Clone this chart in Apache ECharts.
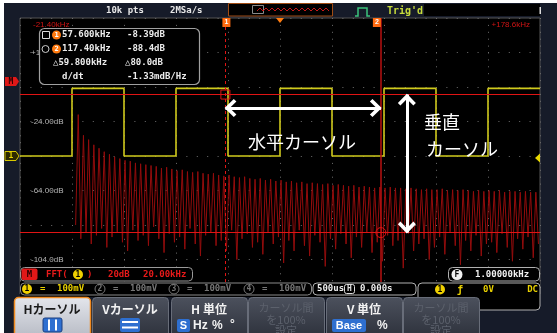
<!DOCTYPE html>
<html>
<head>
<meta charset="utf-8">
<script src="https://cdn.jsdelivr.net/npm/echarts@6/dist/echarts.min.js"></script>
<style>
html, body { margin: 0; padding: 0; background: #fff; }
#main { width: 557px; height: 333px; }
</style>
</head>
<body>
<div id="main"></div>
<script>
// FFT of CH1 (1 kHz square wave): peak level of each odd harmonic 1,3,...,177 kHz (dB)
var fftPeak = [
  -20, -32, -34.5, -37.5, -39.5, -41.5, -43, -44.5, -45.5, -46.5,
  -47, -48, -48.5, -49, -49.5, -50, -51, -50.5, -51.5, -52.5,
  -52, -53, -53.5, -53, -54, -54.5, -54, -55, -55.5, -55,
  -56, -56.5, -56, -57, -57.5, -57, -58, -57.5, -58.5, -58,
  -59, -58.5, -59.5, -59, -60, -59.5, -60, -60.5, -60, -61,
  -60.5, -61, -61.5, -61, -62, -61.5, -62, -62.5, -62, -62.5,
  -62, -62.5, -62.5, -63, -62.5, -63, -63.5, -63, -63.5, -63.5,
  -63, -64, -63.5, -64, -63.5, -64, -64.5, -64, -64.5, -64,
  -64.5, -64, -65, -64.5, -64.5, -65, -64.5, -65, -65
];
// noise floor between harmonics at 0,2,4,...,178 kHz (dB)
var fftFloor = [
  -84, -92, -88, -95, -90, -86, -97, -91, -88, -94,
  -99, -87, -93, -90, -96, -85, -92, -100, -89, -94,
  -91, -98, -86, -95, -102, -90, -88, -96, -93, -99,
  -87, -104, -92, -89, -97, -94, -101, -88, -95, -91,
  -106, -93, -99, -87, -96, -102, -90, -94, -108, -92,
  -98, -89, -95, -103, -91, -97, -88, -100, -94, -105,
  -90, -96, -93, -109, -89, -99, -95, -92, -104, -97,
  -91, -101, -88, -96, -107, -93, -99, -90, -102, -95,
  -94, -100, -89, -97, -105, -92, -98, -91, -103, -95
];
// CH1 time-domain trace: edge times (ms) and level after each (mV)
var sqTime = [-2.5, -2, -1.5, -1, -0.5, 0, 0.5, 1, 1.5, 2, 2.5];
var sqLevel = [0, 196, 0, 196, 0, 196, 0, 196, 0, 196, 196];
// cursors
var cursorFreq = [57.6, 117.4];   // kHz
var cursorDb = [-8.39, -88.4];    // dB
var arrowDb = -16.2;
var arrowFreq = 127.4;
// vertical scale labels
var dbTicks = [16, -24, -64, -104];
var dbLabels = ['+16.00dB', '-24.00dB', '-64.00dB', '-104.0dB'];

var fftData = [];
for (var k = 0; k < fftPeak.length; k++) {
  fftData.push([2 * k, fftFloor[k]]);
  fftData.push([2 * k + 1, fftPeak[k]]);
}
fftData.push([2 * fftPeak.length, fftFloor[fftPeak.length]]);

var sqData = sqTime.map(function (t, i) { return [t, sqLevel[i]]; });

var mono = 'bold 9px "DejaVu Sans Mono"';
var jp = '"Noto Sans CJK JP"';

function txt(x, y, s, color, font, align, z) {
  return { type: 'text', x: x, y: y, z: z || 102,
    style: { text: s, fill: color, font: font || mono, textAlign: align || 'left', textVerticalAlign: 'middle' } };
}
function box(x, y, w, h, r, fill, stroke, lw, z) {
  return { type: 'rect', z: z || 100, shape: { x: x, y: y, width: w, height: h, r: r || 0 },
    style: { fill: fill || 'none', stroke: stroke || 'none', lineWidth: lw || 1 } };
}
function circ(cx, cy, r, fill, stroke, z) {
  return { type: 'circle', z: z || 101, shape: { cx: cx, cy: cy, r: r },
    style: { fill: fill || 'none', stroke: stroke || 'none', lineWidth: 1 } };
}
function grad(a, b) {
  return new echarts.graphic.LinearGradient(0, 0, 0, 1, [{ offset: 0, color: a }, { offset: 1, color: b }]);
}

var g = [];
// white margins
g.push(box(0, 0, 557, 3, 0, '#fff', null, 1, 120));
g.push(box(0, 0, 4, 333, 0, '#fff', null, 1, 120));

// top status bar
g.push(txt(106, 11, '10k pts', '#e8e8e8'));
g.push(txt(170, 11, '2MSa/s', '#e8e8e8'));
g.push(box(228.5, 3.5, 104, 12.5, 0, '#000', '#a04c14', 1));
g.push(box(252.5, 5.5, 11, 8, 0, null, '#8a8a8a', 1, 101));
var wave = [];
for (var i = 0; i <= 24; i++) wave.push([257 + i * 3, 9.5 + (i % 2 ? -1.5 : 1.5)]);
g.push({ type: 'polyline', z: 101, shape: { points: wave }, style: { stroke: '#c81818', lineWidth: 1, fill: 'none' } });
g.push({ type: 'polyline', z: 101, shape: { points: [[355, 16], [358, 16], [358, 8], [367, 8], [367, 16], [370, 16]] },
  style: { stroke: '#3cc47c', lineWidth: 1.5, fill: 'none' } });
g.push(txt(387, 11, "Trig'd", '#c8dc3c', 'bold 10px "DejaVu Sans Mono"'));
g.push(box(424, 4, 116, 12, 0, '#000'));
g.push(box(539.5, 7, 1.5, 7, 0, '#ddd'));

// frequency span labels
g.push(txt(33, 24.5, '-21.40kHz', '#d01414', '8px "Liberation Sans"'));
g.push(txt(530, 25, '+178.6kHz', '#d01414', '8px "Liberation Sans"', 'right'));

// trigger position and level markers
g.push({ type: 'polygon', z: 101, shape: { points: [[276, 18], [284, 18], [280, 23]] }, style: { fill: '#ff7c10' } });
g.push({ type: 'polygon', z: 101, shape: { points: [[540, 153.5], [540, 162.5], [535, 158]] }, style: { fill: '#e8d800' } });

// left markers
g.push({ type: 'polygon', z: 101, shape: { points: [[5, 77], [16, 77], [19, 81.5], [16, 86], [5, 86]] }, style: { fill: '#e01818' } });
g.push(txt(11, 81.5, 'M', '#300000', 'bold 8px "DejaVu Sans Mono"', 'center'));
g.push({ type: 'polygon', z: 101, shape: { points: [[5, 151.5], [16, 151.5], [19, 156], [16, 160.5], [5, 160.5]] },
  style: { fill: '#2e2a00', stroke: '#d8c800', lineWidth: 1 } });
g.push(txt(11, 156, '1', '#e8d800', 'bold 8px "DejaVu Sans Mono"', 'center'));

// cursor readout box
g.push(box(39.5, 28.5, 160, 56, 5, '#000', '#a0a0a0', 1.2));
g.push(box(42.5, 31.5, 7, 7, 0, null, '#dddddd', 1, 101));
g.push(circ(56.5, 35, 4.5, '#ff7a10'));
g.push(txt(56.5, 35, '1', '#fff', 'bold 7px "DejaVu Sans Mono"', 'center'));
g.push(txt(62, 35, '57.600kHz', '#ececec'));
g.push(txt(127, 35, '-8.39dB', '#ececec'));
g.push(circ(45.5, 49, 3.5, null, '#cccccc'));
g.push(circ(56.5, 49, 4.5, '#ff7a10'));
g.push(txt(56.5, 49, '2', '#fff', 'bold 7px "DejaVu Sans Mono"', 'center'));
g.push(txt(62, 49, '117.40kHz', '#ececec'));
g.push(txt(127, 49, '-88.4dB', '#ececec'));
g.push(txt(53, 63, '\u25B359.800kHz', '#ececec'));
g.push(txt(125, 63, '\u25B380.0dB', '#ececec'));
g.push(txt(62, 77, 'd/dt', '#ececec'));
g.push(txt(127, 77, '-1.33mdB/Hz', '#ececec'));

// FFT info bar
g.push(box(20.5, 267.5, 172, 13.5, 4, '#000', '#9a9a9a'));
g.push(box(21.5, 268.5, 16, 11.5, 2, '#e01818', null, 1, 101));
g.push(txt(29.5, 274.5, 'M', '#2a0000', mono, 'center'));
g.push(txt(46, 274.5, 'FFT(', '#e81a1a'));
g.push(circ(78, 274.5, 5, '#f0d000'));
g.push(txt(78, 274.5, '1', '#000', 'bold 8px "DejaVu Sans Mono"', 'center'));
g.push(txt(87, 274.5, ')', '#e81a1a'));
g.push(txt(108, 274.5, '20dB', '#e81a1a'));
g.push(txt(143, 274.5, '20.00kHz', '#e81a1a'));

// frequency counter
g.push(box(448.5, 267.5, 91, 13.5, 4, '#000', '#b0b0b0'));
g.push(circ(457, 274.5, 5.5, '#f0f0f0'));
g.push(txt(457, 274.5, 'F', '#000', 'bold 8px "DejaVu Sans Mono"', 'center'));
g.push(txt(475, 274.5, '1.00000kHz', '#f0f0f0'));

// channel bar
g.push(box(20, 282, 520, 15, 0, '#000'));
g.push(box(20.5, 283, 291, 12, 4, '#000', '#8a8a8a'));
var chX = [27, 100, 174, 249];
chX.forEach(function (cx, i) {
  var on = i === 0;
  var c = on ? '#e8d000' : '#767676';
  g.push(circ(cx, 289, 5, on ? '#f0d000' : null, on ? null : '#767676'));
  g.push(txt(cx, 289, String(i + 1), on ? '#000' : '#767676', 'bold 8px "DejaVu Sans Mono"', 'center'));
  g.push(txt(cx + 13, 289, '=', c));
  g.push(txt(cx + 30, 289, '100mV', c));
});
g.push(box(313, 283, 103, 12, 4, '#000', '#b0b0b0'));
g.push(txt(317, 289, '500us', '#eeeeee'));
g.push(box(344.5, 284.5, 10, 9, 2, null, '#dddddd', 1, 101));
g.push(txt(349.5, 289, 'H', '#dddddd', 'bold 8px "DejaVu Sans Mono"', 'center'));
g.push(txt(360, 289, '0.000s', '#eeeeee'));
g.push(box(418, 283, 122, 27, 4, '#000', '#b0b0b0'));
g.push(circ(440, 289.5, 5, '#f0d000'));
g.push(txt(440, 289.5, '1', '#000', 'bold 8px "DejaVu Sans Mono"', 'center'));
g.push(txt(457, 290, '\u0192', '#e8d000', 'bold 10px "DejaVu Sans Mono"'));
g.push(txt(483, 289.5, '0V', '#e8d000'));
g.push(txt(538, 289.5, 'DC', '#e8d000', mono, 'right'));

// soft-key menu
var btnX = [14, 92, 171, 248, 326, 403];
btnX.forEach(function (x, i) {
  if (i === 0) g.push(box(x + 0.5, 297.5, 76, 44, 4, grad('#e4e6ec', '#b2b6c0'), '#f08a20', 1.5, 103));
  else g.push(box(x + 0.5, 297.5, 76, 44, 4, grad('#4c515d', '#2a2e38'), '#686d79', 1, 103));
});
var bf = 'bold 12px ' + jp;
g.push(txt(52, 309, 'Hカーソル', '#1a1a1a', bf, 'center', 105));
g.push(box(43, 318, 19, 14, 2, '#2e6fd0', '#1a3f80', 1, 104));
g.push(box(48, 319.5, 2, 11, 0, '#fff', null, 1, 105));
g.push(box(55, 319.5, 2, 11, 0, '#fff', null, 1, 105));
g.push(txt(130, 309, 'Vカーソル', '#f2f2f2', bf, 'center', 105));
g.push(box(120, 318, 20, 14, 2, '#2e6fd0', null, 1, 104));
g.push(box(122, 321, 16, 2, 0, '#fff', null, 1, 105));
g.push(box(122, 326.5, 16, 2, 0, '#fff', null, 1, 105));
g.push(txt(209, 309, 'H 単位', '#f2f2f2', bf, 'center', 105));
g.push(box(177, 319, 13, 13, 2, '#2e6fd0', null, 1, 104));
g.push(txt(183.5, 325.5, 'S', '#fff', 'bold 11px "Liberation Sans"', 'center', 105));
g.push(txt(193, 326, 'Hz', '#f2f2f2', 'bold 12px "Liberation Sans"', 'left', 105));
g.push(txt(212, 326, '%', '#f2f2f2', 'bold 12px "Liberation Sans"', 'left', 105));
g.push(txt(230, 325, '\u00B0', '#f2f2f2', 'bold 12px "Liberation Sans"', 'left', 105));
g.push(txt(364, 309, 'V 単位', '#f2f2f2', bf, 'center', 105));
g.push(box(332, 319, 34, 13, 2, '#2e6fd0', null, 1, 104));
g.push(txt(349, 325.5, 'Base', '#fff', 'bold 11px "Liberation Sans"', 'center', 105));
g.push(txt(377, 326, '%', '#f2f2f2', 'bold 12px "Liberation Sans"', 'left', 105));
[286, 441].forEach(function (cx) {
  g.push(txt(cx, 308, 'カーソル間', '#5c616c', '11px ' + jp, 'center', 105));
  g.push(txt(cx, 320, 'を100%', '#5c616c', '11px ' + jp, 'center', 105));
  g.push(txt(cx, 331, '設定', '#5c616c', '11px ' + jp, 'center', 105));
});

// annotations
g.push(txt(248, 142, '水平カーソル', '#ffffff', '18px ' + jp, 'left', 110));
g.push(txt(424, 122, '垂直', '#ffffff', '18px ' + jp, 'left', 110));
g.push(txt(426, 149, 'カーソル', '#ffffff', '18px ' + jp, 'left', 110));

var chevron = 'path://M10,0 L10,0 M10,11 L20,21 L17.2,23.8 L10,16.6 L2.8,23.8 L0,21 Z';

var chart = echarts.init(document.getElementById('main'));
chart.setOption({
  animation: false,
  backgroundColor: '#161b29',
  grid: { left: 20, top: 18, width: 520, height: 276, show: true, backgroundColor: '#000',
    borderColor: '#555', borderWidth: 1 },
  xAxis: [
    { type: 'value', min: 0, max: 10, interval: 1, axisLabel: { show: false }, axisTick: { show: false },
      axisLine: { show: false },
      splitLine: { show: true, lineStyle: { color: '#6e6e6e', type: [1, 5.9], width: 1 } } },
    { type: 'value', min: -21.4, max: 178.6, show: false },
    { type: 'value', min: -2.5, max: 2.5, show: false }
  ],
  yAxis: [
    { type: 'value', min: 0, max: 8, interval: 1, axisLabel: { show: false }, axisTick: { show: false },
      axisLine: { show: false },
      splitLine: { show: true, lineStyle: { color: '#6e6e6e', type: [1, 9.4], width: 1 } } },
    { type: 'value', position: 'left', min: -124, max: 36, axisLine: { show: false }, axisTick: { show: false },
      splitLine: { show: false },
      axisLabel: { inside: true, margin: 11, customValues: dbTicks, color: '#b4b4b4', fontSize: 8,
        fontFamily: 'Liberation Sans',
        formatter: function (v) { var i = dbTicks.indexOf(v); return i < 0 ? '' : dbLabels[i]; } } },
    { type: 'value', min: -400, max: 400, show: false }
  ],
  graphic: { elements: g },
  series: [
    {
      name: 'FFT', type: 'line', xAxisIndex: 1, yAxisIndex: 1, data: fftData,
      symbol: 'none', z: 2,
      lineStyle: { color: '#940c0c', width: 1 },
      markLine: {
        silent: true, symbol: 'none', label: { show: false },
        lineStyle: { color: '#e01414', width: 1, type: 'solid' },
        data: [
          { xAxis: cursorFreq[0], lineStyle: { type: [3, 3], color: '#e01414' } },
          { xAxis: cursorFreq[1], lineStyle: { color: '#b81010', width: 1.5 } },
          { yAxis: cursorDb[0] },
          { yAxis: cursorDb[1] }
        ]
      },
      markPoint: {
        silent: true,
        data: [
          { coord: [cursorFreq[0], cursorDb[0]], symbol: 'rect', symbolSize: 9,
            itemStyle: { color: 'rgba(0,0,0,0)', borderColor: '#e01414', borderWidth: 1 }, label: { show: false } },
          { coord: [cursorFreq[1], cursorDb[1]], symbol: 'circle', symbolSize: 10,
            itemStyle: { color: 'rgba(0,0,0,0)', borderColor: '#e01414', borderWidth: 1 }, label: { show: false } },
          { coord: [cursorFreq[0], 36], symbol: 'rect', symbolSize: [8, 9], symbolOffset: [1, 4.5],
            itemStyle: { color: '#ff6a10' },
            label: { show: true, position: 'inside', formatter: '1', color: '#fff', fontSize: 7, fontWeight: 'bold' } },
          { coord: [cursorFreq[1], 36], symbol: 'rect', symbolSize: [8, 9], symbolOffset: [-4, 4.5],
            itemStyle: { color: '#ff6a10' },
            label: { show: true, position: 'inside', formatter: '2', color: '#fff', fontSize: 7, fontWeight: 'bold' } }
        ]
      }
    },
    {
      name: 'CH1', type: 'line', xAxisIndex: 2, yAxisIndex: 2, data: sqData, step: 'end',
      symbol: 'none', z: 4, lineStyle: { color: '#d0ca1c', width: 1.6 }
    },
    {
      name: 'arrows', type: 'line', xAxisIndex: 1, yAxisIndex: 1, data: [], z: 10,
      markLine: {
        silent: true, symbol: [chevron, chevron], symbolSize: [18, 22], label: { show: false },
        lineStyle: { color: '#ffffff', width: 3, type: 'solid' },
        data: [
          [{ coord: [cursorFreq[0], arrowDb] }, { coord: [cursorFreq[1], arrowDb] }],
          [{ coord: [arrowFreq, cursorDb[0]] }, { coord: [arrowFreq, cursorDb[1]] }]
        ]
      }
    }
  ]
});
</script>
</body>
</html>
